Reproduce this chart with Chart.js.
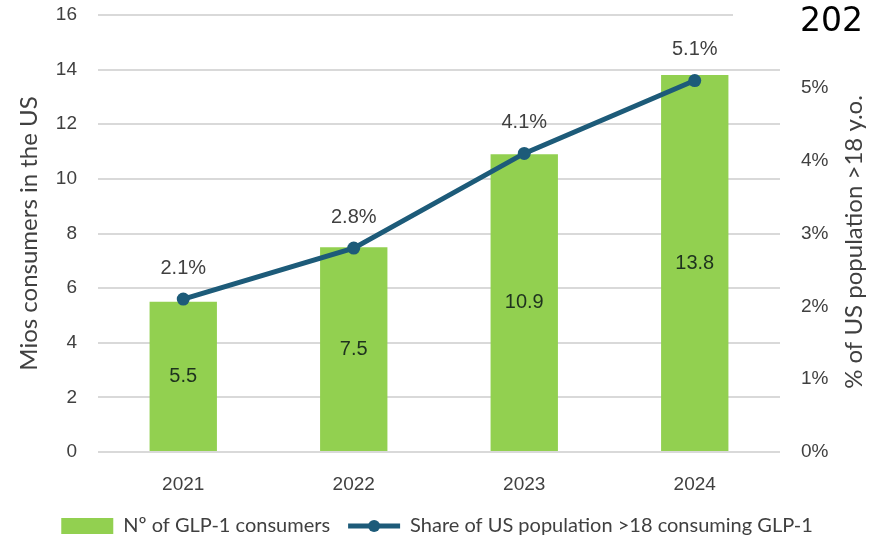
<!DOCTYPE html>
<html lang="en">
  <head>
    <meta charset="UTF-8" />
    <title>GLP-1 consumers in the US</title>
    <script src="https://cdn.jsdelivr.net/npm/chart.js"></script>
    <style>
      html, body { margin: 0; padding: 0; background: #fff; }
      #wrap { width: 874px; height: 537px; position: relative; }
    </style>
  </head>
  <body>
    <div id="wrap"><canvas id="myChart"></canvas></div>

    <script>
      // data
      const years = ["2021", "2022", "2023", "2024"];
      const consumers = [5.5, 7.5, 10.9, 13.8]; // millions
      const share = [2.1, 2.8, 4.1, 5.1]; // % of US population >18
      const consumerLabels = ["5.5", "7.5", "10.9", "13.8"];
      const shareLabels = ["2.1%", "2.8%", "4.1%", "5.1%"];
      const rightTitle = "% of US population >18 y.o.";
      const cornerText = "202";

      const GREEN = "#92d050";
      const BLUE = "#1d5b79";
      const GREY = "#404040";
      const GRID = "#d9d9d9";

      // value labels: inside the bars and above the line points
      const valueLabels = {
        id: "valueLabels",
        afterDatasetsDraw(chart) {
          const ctx = chart.ctx;
          ctx.save();
          ctx.textAlign = "center";
          ctx.textBaseline = "middle";
          ctx.font = "20px 'Liberation Sans', Arial, sans-serif";
          const bars = chart.getDatasetMeta(1).data;
          bars.forEach((bar, i) => {
            ctx.fillStyle = "#1e321e";
            ctx.fillText(consumerLabels[i], bar.x, (bar.y + bar.base) / 2);
          });
          const pts = chart.getDatasetMeta(0).data;
          pts.forEach((p, i) => {
            ctx.fillStyle = GREY;
            ctx.fillText(shareLabels[i], p.x, p.y - 31);
          });
          ctx.restore();
        },
      };

      // legend marker for the line series, right axis title, corner text
      const extras = {
        id: "extras",
        afterDraw(chart) {
          const ctx = chart.ctx;
          const lg = chart.legend;
          const idx = lg.legendItems.findIndex((it) => it.datasetIndex === 0);
          const box = lg.legendHitBoxes[idx];
          if (box) {
            const bw = lg.options.labels.boxWidth;
            const cy = box.top + box.height / 2;
            ctx.save();
            ctx.strokeStyle = BLUE;
            ctx.lineWidth = 5;
            ctx.beginPath();
            ctx.moveTo(box.left, cy);
            ctx.lineTo(box.left + bw, cy);
            ctx.stroke();
            ctx.fillStyle = BLUE;
            ctx.beginPath();
            ctx.arc(box.left + bw / 2, cy, 6, 0, Math.PI * 2);
            ctx.fill();
            ctx.restore();
          }
          // right axis title, reading bottom to top
          ctx.save();
          ctx.translate(854, 242);
          ctx.rotate(-Math.PI / 2);
          ctx.textAlign = "center";
          ctx.textBaseline = "middle";
          ctx.fillStyle = GREY;
          ctx.font = "24px Lato, sans-serif";
          ctx.fillText(rightTitle, 0, 0);
          ctx.restore();
          // cropped title fragment at the top right
          ctx.save();
          ctx.fillStyle = "#fff";
          ctx.fillRect(733, 0, 141, 38);
          ctx.fillStyle = "#000";
          ctx.font = "33px 'DejaVu Sans', sans-serif";
          ctx.textBaseline = "alphabetic";
          ctx.fillText(cornerText, 800, 31);
          ctx.restore();
        },
      };

      // vertical axes: fixed width, no extra top/bottom padding from labels
      function fixWidth(w) {
        return (scale) => {
          scale.width = w;
          scale.paddingTop = 0;
          scale.paddingBottom = 0;
        };
      }

      const chart = new Chart(document.getElementById("myChart"), {
        type: "bar",
        data: {
          labels: years,
          datasets: [
            {
              type: "line",
              label: "Share of US population >18 consuming GLP-1",
              data: share,
              yAxisID: "y1",
              borderColor: BLUE,
              backgroundColor: BLUE,
              borderWidth: 5,
              pointRadius: 6.5,
              pointHoverRadius: 6.5,
              pointBackgroundColor: BLUE,
              pointBorderWidth: 0,
              order: 0,
            },
            {
              type: "bar",
              label: "Nº of GLP-1 consumers",
              data: consumers,
              yAxisID: "y",
              backgroundColor: GREEN,
              categoryPercentage: 1,
              barPercentage: 0.395,
              order: 1,
            },
          ],
        },
        plugins: [valueLabels, extras],
        options: {
          responsive: true,
          maintainAspectRatio: false,
          animation: false,
          layout: { padding: { top: 15, bottom: -9 } },
          plugins: {
            tooltip: { enabled: false },
            legend: {
              position: "bottom",
              reverse: true,
              labels: {
                color: GREY,
                font: { family: "Lato, sans-serif", size: 20 },
                boxWidth: 52,
                boxHeight: 16,
                padding: 18,
                generateLabels(chart) {
                  const items = Chart.defaults.plugins.legend.labels.generateLabels(chart);
                  items.forEach((it) => {
                    it.lineWidth = 0;
                    if (it.datasetIndex === 0) {
                      it.fillStyle = "rgba(0,0,0,0)";
                      it.strokeStyle = "rgba(0,0,0,0)";
                    }
                  });
                  return items;
                },
              },
            },
          },
          scales: {
            x: {
              grid: { display: false, drawTicks: false },
              border: { display: false },
              ticks: {
                color: GREY,
                font: { family: "'Liberation Sans', Arial, sans-serif", size: 19 },
                padding: 21,
              },
              afterFit(scale) {
                scale.height = 46;
              },
            },
            y: {
              position: "left",
              min: 0,
              max: 16,
              ticks: {
                stepSize: 2,
                color: GREY,
                font: { family: "'Liberation Sans', Arial, sans-serif", size: 19 },
                padding: 21,
              },
              grid: { color: GRID, lineWidth: 2, drawTicks: false },
              border: { display: false },
              title: {
                display: true,
                text: "Mios consumers in the US",
                color: GREY,
                font: { family: "Lato, sans-serif", size: 24 },
                padding: { top: 15, bottom: 0 },
              },
              afterFit: fixWidth(98),
            },
            y1: {
              position: "right",
              min: 0,
              max: 6,
              ticks: {
                stepSize: 1,
                color: GREY,
                font: { family: "'Liberation Sans', Arial, sans-serif", size: 19 },
                padding: 13,
                callback: (v) => (v >= 6 ? "" : v + "%"),
              },
              grid: { display: false },
              border: { display: false },
              afterFit: fixWidth(94),
            },
          },
        },
      });
    </script>
  </body>
</html>
